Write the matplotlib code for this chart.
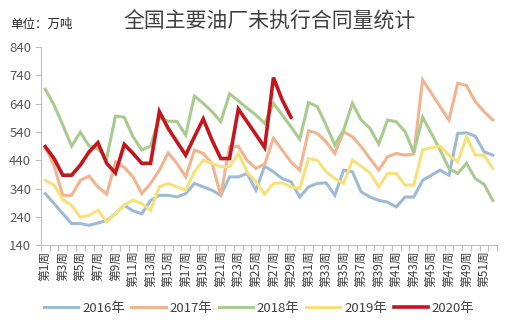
import matplotlib.pyplot as plt
import numpy as np

plt.rcParams["font.family"] = ["Noto Sans CJK SC", "DejaVu Sans"]

weeks = ["第%d周" % i for i in range(1, 53)]

y2016 = [322, 287, 251, 216, 216, 210, 218, 227, 251, 281, 261, 251, 298, 316, 316, 310,
         322, 358, 346, 334, 316, 381, 381, 393, 334, 419, 399, 375, 364, 310, 346, 358,
         360, 316, 405, 399, 328, 310, 298, 292, 275, 310, 310, 369, 387, 405, 387, 535,
         537, 525, 470, 458]
y2017 = [488, 420, 316, 316, 369, 384, 346, 320, 434, 415, 381, 322, 358, 405, 466, 429,
         381, 476, 464, 429, 316, 488, 489, 440, 411, 426, 517, 476, 434, 405, 544, 535,
         505, 464, 541, 523, 488, 446, 405, 452, 464, 458, 462, 724, 677, 629, 582, 712,
         704, 647, 612, 582]
y2018 = [691, 635, 564, 490, 539, 490, 480, 447, 596, 592, 523, 476, 490, 590, 578, 577,
         529, 667, 641, 612, 576, 675, 650, 624, 600, 570, 641, 600, 558, 514, 644, 629,
         564, 494, 547, 641, 582, 553, 497, 582, 576, 541, 467, 592, 535, 476, 411, 393,
         429, 375, 355, 298]
y2019 = [369, 352, 301, 281, 239, 245, 263, 222, 251, 281, 299, 287, 263, 346, 358, 346,
         334, 399, 440, 429, 417, 417, 464, 399, 364, 320, 358, 360, 346, 340, 446, 440,
         399, 375, 358, 440, 419, 395, 346, 393, 393, 352, 352, 476, 485, 490, 458, 434,
         523, 458, 458, 411]
y2020 = [488, 446, 387, 387, 423, 470, 502, 429, 395, 496, 464, 429, 429, 612, 553, 505,
         458, 523, 586, 511, 446, 446, 621, 576, 531, 485, 732, 653, 592]

series = [("2016年", y2016, "#9dbbd9", 2.2),
          ("2017年", y2017, "#f2b48f", 2.2),
          ("2018年", y2018, "#a9cb8f", 2.2),
          ("2019年", y2019, "#f8e07a", 2.2),
          ("2020年", y2020, "#c4161c", 2.6)]

fig = plt.figure(figsize=(5.11, 3.29), dpi=100)
ax = fig.add_axes([0.080, 0.255, 0.893, 0.602])

for name, vals, color, lw in series:
    ax.plot(np.arange(len(vals)), vals, color=color, lw=lw, label=name,
            solid_joinstyle="miter")

ax.set_xlim(-0.5, 51.5)
ax.set_ylim(140, 840)
ax.set_yticks(np.arange(140, 841, 100))
ax.set_xticks(np.arange(0, 52, 2))
ax.set_xticklabels(weeks[::2], rotation=90, va="top", ha="center")
ax.set_xticks(np.arange(-0.5, 52, 1), minor=True)
ax.tick_params(axis="x", which="major", length=0, pad=4, labelsize=8.5, colors="#404040")
ax.tick_params(axis="x", which="minor", length=4, color="#bfbfbf", width=0.8)
ax.tick_params(axis="y", length=4, color="#bfbfbf", width=0.8, labelsize=9.5,
               labelcolor="#595959", pad=3)

for side in ["top", "right"]:
    ax.spines[side].set_visible(False)
for side in ["left", "bottom"]:
    ax.spines[side].set_color("#bfbfbf")
    ax.spines[side].set_linewidth(0.8)

fig.text(0.527, 0.935, "全国主要油厂未执行合同量统计", ha="center", va="center",
         fontsize=15, color="#404040")
fig.text(0.02, 0.925, "单位：万吨", ha="left", va="center", fontsize=9, color="#262626")

fig.legend(loc="center", bbox_to_anchor=(0.507, 0.063), ncol=5, frameon=False,
           fontsize=9.5, handlelength=2.6, handletextpad=0.3, columnspacing=0.5,
           labelcolor="#404040")

fig.savefig("out.png", dpi=100)
